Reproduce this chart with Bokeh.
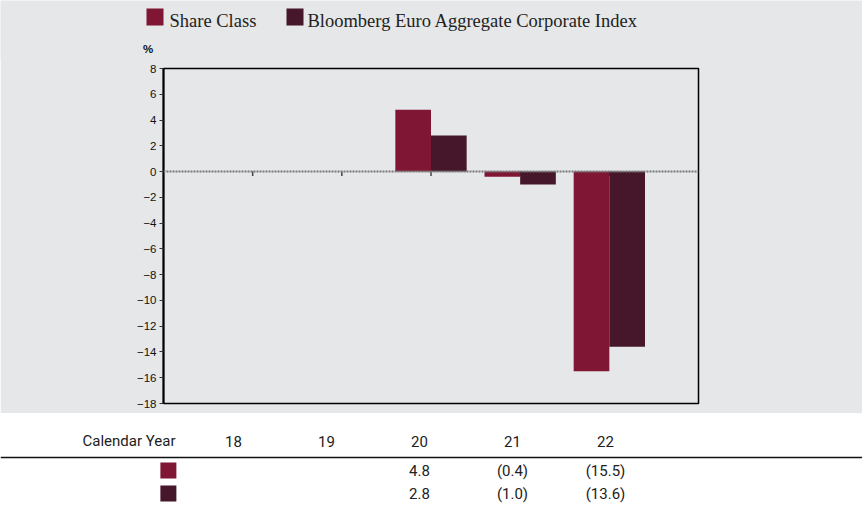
import math
from bokeh.plotting import figure
from bokeh.models import (Range1d, FixedTicker, Span, ColumnDataSource)
from bokeh.transform import dodge
from bokeh.core.properties import value
from bokeh.embed import file_html
from bokeh.resources import INLINE

# ---- data ----
years = [18, 19, 20, 21, 22]
year_labels = ["18", "19", "20", "21", "22"]
share_class = [math.nan, math.nan, 4.8, -0.4, -15.5]
bench_index = [math.nan, math.nan, 2.8, -1.0, -13.6]
series_names = ["Share Class", "Bloomberg Euro Aggregate Corporate Index"]
series_colors = ["#7F1734", "#46172A"]
y_ticks = list(range(-18, 10, 2))
unit_label = "%"

BG = "#E6E7E9"
TABLE_FONT = "Roboto"


def fmt(v):
    if v is None or (isinstance(v, float) and math.isnan(v)):
        return ""
    return f"({abs(v):.1f})" if v < 0 else f"{v:.1f}"


# ---- legend strip + unit label (layout positions in px) ----
LEG_H = 56          # visible height of the strip
OVERLAP = 2         # strip drawn slightly taller, chart overlaps it
LEG_SWATCH_X = [154.5, 294.5]
LEG_TEXT_X = [169, 307]
lg = figure(width=862, height=LEG_H + OVERLAP, output_backend="svg",
            toolbar_location=None,
            x_range=Range1d(0, 862), y_range=Range1d(LEG_H + OVERLAP, 0),
            min_border=0)
lg.styles = {"margin-bottom": f"-{OVERLAP}px"}
lg.outline_line_color = None
lg.axis.visible = False
lg.grid.visible = False
lg.background_fill_color = BG
lg.border_fill_color = BG
lg.scatter(x=LEG_SWATCH_X, y=[16.5, 16.5], marker="square", size=17,
           fill_color=series_colors, line_color=None)
lg.text(x=LEG_TEXT_X, y=[20, 20], text=series_names,
        text_font=value("Liberation Serif"), text_font_size="18.5px",
        text_color="#222222", text_align="left", text_baseline="middle")
lg.text(x=[147.5], y=[48.5], text=[unit_label],
        text_font=value("Liberation Sans"), text_font_size="11.5px",
        text_font_style="bold", text_color="#111111",
        text_align="center", text_baseline="middle")

# ---- chart ----
p = figure(width=862, height=413 - LEG_H, output_backend="svg",
           toolbar_location=None,
           x_range=Range1d(17, 23), y_range=Range1d(-18, 8),
           min_border_left=163, min_border_right=164, min_border_top=68 - LEG_H,
           min_border_bottom=10)
p.background_fill_color = BG
p.border_fill_color = BG
p.outline_line_color = "black"
p.outline_line_width = 1.5
p.xgrid.visible = False
p.ygrid.visible = False
p.xaxis.visible = False

ya = p.yaxis[0]
ya.ticker = FixedTicker(ticks=y_ticks)
ya.axis_line_width = 2
ya.axis_line_color = "black"
ya.major_tick_out = 4
ya.major_tick_in = 0
ya.major_tick_line_color = "#333333"
ya.minor_tick_line_color = None
ya.major_label_text_font = "Liberation Sans"
ya.major_label_text_font_size = "11.5px"
ya.major_label_text_color = "#111111"
ya.major_label_standoff = 3

src = ColumnDataSource(dict(year=years, share=share_class, idx=bench_index))

zero = Span(location=0, dimension="width", line_color="#777777",
            line_dash="2 1", line_width=2)
p.add_layout(zero)

p.segment(x0="year", y0=0, x1="year", y1=-0.35, source=src,
          line_color="#444444", line_width=1.5)

p.vbar(x=dodge("year", -0.2, range=p.x_range), top="share", width=0.4,
       source=src, fill_color=series_colors[0], line_color=None)
p.vbar(x=dodge("year", 0.2, range=p.x_range), top="idx", width=0.4,
       source=src, fill_color=series_colors[1], line_color=None)

# ---- table ----
t = figure(width=862, height=91, output_backend="svg", toolbar_location=None,
           x_range=Range1d(15.495, 24.763), y_range=Range1d(2.478, -1.478),
           min_border=0)
t.outline_line_color = None
t.axis.visible = False
t.grid.visible = False
t.background_fill_color = "white"
t.border_fill_color = "white"

header_y = -0.261
rows = [1, 2]

t.add_layout(Span(location=0.435, dimension="width", line_color="#111111",
                  line_width=1.5))

t.text(x=years, y=[header_y] * len(years), text=year_labels,
       text_font=value(TABLE_FONT), text_font_size="15px", text_color="#222222",
       text_align="center", text_baseline="middle")
t.text(x=[17], y=[header_y], text=["Calendar Year"], x_offset=35,
       text_font=value(TABLE_FONT), text_font_size="15px", text_color="#222222",
       text_align="right", text_baseline="middle")

t.scatter(x=[17.3, 17.3], y=rows, marker="square", size=16,
          fill_color=series_colors, line_color=None)

for r, vals in zip(rows, [share_class, bench_index]):
    t.text(x=years, y=[r] * len(years), text=[fmt(v) for v in vals],
           text_font=value(TABLE_FONT), text_font_size="15px", text_color="#222222",
           text_align="center", text_baseline="middle")

open("out.html", "w").write(file_html([lg, p, t], INLINE))
